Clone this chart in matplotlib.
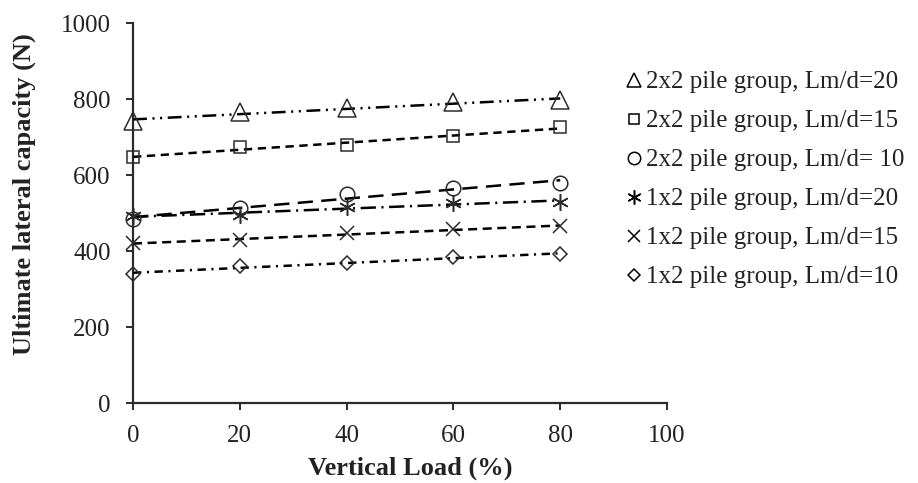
import numpy as np
import matplotlib
matplotlib.use("Agg")
import matplotlib.pyplot as plt
from matplotlib.lines import Line2D

plt.rcParams['font.family'] = ['Liberation Serif', 'DejaVu Serif']
plt.rcParams['lines.scale_dashes'] = False

# Vertical load levels (%) and measured ultimate lateral capacity (N)
vertical_load = [0, 20, 40, 60, 80]
g2x2_lm20 = [741, 765, 776, 791, 797]
g2x2_lm15 = [647, 673, 678, 702, 726]
g2x2_lm10 = [483, 512, 551, 565, 578]
g1x2_lm20 = [491, 496, 515, 526, 530]
g1x2_lm15 = [420, 428, 447, 457, 465]
g1x2_lm10 = [339, 360, 368, 384, 391]

labels = [
    "2x2 pile group, Lm/d=20",
    "2x2 pile group, Lm/d=15",
    "2x2 pile group, Lm/d= 10",
    "1x2 pile group, Lm/d=20",
    "1x2 pile group, Lm/d=15",
    "1x2 pile group, Lm/d=10",
]
x_ticks = [0, 20, 40, 60, 80, 100]
y_ticks = [0, 200, 400, 600, 800, 1000]

series = [g2x2_lm20, g2x2_lm15, g2x2_lm10, g1x2_lm20, g1x2_lm15, g1x2_lm10]

# marker, marker size, trendline dash pattern (points)
styles = [
    ('^', 12.5, (0, (10, 4, 1.5, 4, 1.5, 4))),
    ('s', 9, (0, (6, 4))),
    ('o', 10.5, (0, (11, 6))),
    ((6, 2, 0), 12, (0, (11, 4, 1.5, 4))),
    ('x', 10, (0, (6.5, 4))),
    ('D', 7.5, (0, (6, 4, 1.5, 4))),
]

ink = '#2b2b2b'
text_color = '#222222'
fig = plt.figure(figsize=(9.18, 4.83), dpi=100)
ax = fig.add_axes([0.1449, 0.1656, 0.5817, 0.7867])

x = np.array(vertical_load, dtype=float)
handles = []
for vals, (mk, ms, dash), lab in zip(series, styles, labels):
    y = np.array(vals, dtype=float)
    slope, icpt = np.polyfit(x, y, 1)
    ax.plot([x[0], x[-1]], [icpt + slope * x[0], icpt + slope * x[-1]],
            color='black', lw=1.8, linestyle=dash, zorder=3)
    ax.plot(x, y, linestyle='none', marker=mk, markersize=ms,
            markerfacecolor='none', markeredgecolor=ink, markeredgewidth=1.1,
            zorder=4, clip_on=False)
    handles.append(Line2D([], [], linestyle='none', marker=mk, markersize=ms * 0.85,
                          markerfacecolor='none', markeredgecolor='black',
                          markeredgewidth=1.1, label=lab))

ax.set_xlim(0, 100)
ax.set_ylim(0, 1000)
ax.set_xticks(x_ticks)
ax.set_yticks(y_ticks)
for side in ('top', 'right'):
    ax.spines[side].set_visible(False)
for side in ('left', 'bottom'):
    ax.spines[side].set_linewidth(1.6)
    ax.spines[side].set_color(ink)
ax.tick_params(axis='both', direction='out', length=5, width=1.4, color=ink,
               labelsize=18, labelcolor=text_color)
ax.tick_params(axis='x', pad=11)
ax.tick_params(axis='y', pad=11)

ax.set_xlabel("Vertical Load (%)", fontsize=19, fontweight='bold', color=text_color)
ax.set_ylabel("Ultimate lateral capacity (N)", fontsize=19, fontweight='bold', color=text_color)
ax.xaxis.label.set_va('center')
ax.yaxis.label.set_va('center')
ax.xaxis.set_label_coords(0.519, -0.171)
ax.yaxis.set_label_coords(-0.204, 0.551)

fig.legend(handles=handles, loc='upper left', bbox_to_anchor=(0.672, 0.874),
           frameon=False, fontsize=18, handlelength=0.6, handletextpad=0.15,
           labelspacing=0.66, borderaxespad=0, labelcolor=text_color)

fig.savefig("out.png", dpi=100)
